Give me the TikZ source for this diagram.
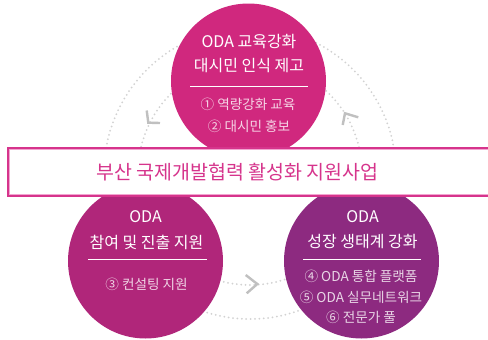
\documentclass[tikz,border=0pt]{standalone}
\usepackage{fontspec}
\setmainfont{Noto Sans CJK KR}
\definecolor{ctop}{RGB}{208,40,126}
\definecolor{cleft}{RGB}{176,38,122}
\definecolor{cright}{RGB}{141,42,128}
\definecolor{bpink}{RGB}{214,52,140}
\definecolor{lpink}{RGB}{242,165,208}
\definecolor{dotgray}{RGB}{210,210,210}
\definecolor{chev}{RGB}{192,192,192}
\begin{document}
\begin{tikzpicture}[x=1pt,y=-1pt,
  ring/.style={draw=dotgray, line width=2pt, line cap=round, dash pattern=on 0pt off 4.4pt},
  chevron/.style={draw=chev, line width=2.4pt},
  bigdisc/.style={circle, minimum size=155pt, inner sep=0pt},
  ttl/.style={text=white, font=\fontsize{16}{19}\selectfont, inner sep=0pt},
  sub/.style={text=white, text opacity=0.8, font=\fontsize{13.6}{16}\selectfont, inner sep=0pt},
  rulestyle/.style={draw=white, line width=0.8pt}]
\useasboundingbox (0,0) rectangle (488,340);
\fill[white] (0,0) rectangle (488,340);

% dotted rings
\coordinate (ctr) at (250,173);
\draw[ring] (ctr) circle[radius=112];
\draw[ring] (ctr) circle[radius=146];

% chevrons
\draw[chevron] (146.7,110.5) -- (148.3,122.7) -- (160,123);
\draw[chevron] (358.3,117.3) -- (345,113.3) -- (342.7,125);
\draw[chevron] (245.7,275) -- (257.3,284) -- (246.7,293.3);

% circles
\node[bigdisc, fill=ctop] (top) at (248.5,81) {};
\node[bigdisc, fill=cleft] (left) at (145.5,261) {};
\node[bigdisc, fill=cright] (right) at (361.5,261) {};

% top circle text
\node[ttl] (t1) at (249,42) {ODA 교육강화};
\node[ttl] (t2) at (249,66) {대시민 인식 제고};
\draw[rulestyle] (190,86) -- (308,86);
\node[sub] (t3) at (248,104) {① 역량강화 교육};
\node[sub] (t4) at (249,126) {② 대시민 홍보};

% left circle text
\node[ttl] (l1) at (145.5,217) {ODA};
\node[ttl] (l2) at (146.5,242) {참여 및 진출 지원};
\draw[rulestyle] (88,259) -- (207,259);
\node[sub] (l3) at (146.5,284) {③ 컨설팅 지원};

% right circle text
\node[ttl] (r1) at (362.5,217) {ODA};
\node[ttl] (r2) at (362.5,242) {성장 생태계 강화};
\draw[rulestyle] (303,259) -- (421,259);
\node[sub] (r3) at (361,276) {④ ODA 통합 플랫폼};
\node[sub] (r4) at (361,297) {⑤ ODA 실무네트워크};
\node[sub] (r5) at (361,317) {⑥ 전문가 풀};

% banner
\fill[white] (7,147) rectangle (495,197);
\draw[bpink, line width=2.2pt] (8.1,148.1) rectangle (495,195.9);
\draw[lpink, line width=1pt] (9.7,149.7) rectangle (495,194.3);
\node[text=bpink, font=\fontsize{19.5}{23}\selectfont, inner sep=0pt] (banner) at (237.5,172) {부산 국제개발협력 활성화 지원사업};
\end{tikzpicture}
\end{document}
